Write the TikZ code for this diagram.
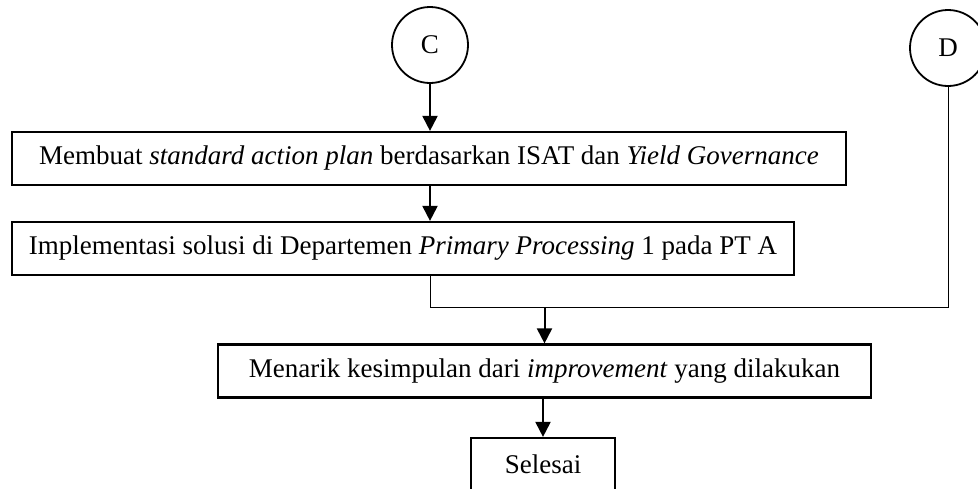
\documentclass[tikz,border=0pt]{standalone}
\usepackage{fontspec}
\setmainfont{Liberation Serif}
\usetikzlibrary{arrows.meta}
\begin{document}
\begin{tikzpicture}[x=1pt,y=-1pt,
  box/.style={draw, line width=2.2pt, minimum height=53pt, inner sep=0pt, font=\fontsize{27}{31}\selectfont},
  circ/.style={draw, circle, line width=1.8pt, minimum size=76pt, inner sep=0pt, font=\fontsize{27}{31}\selectfont},
  arr/.style={line width=2pt, -{Triangle[width=15pt,length=15pt]}},
  link/.style={line width=1pt}]
\useasboundingbox (0,0) rectangle (978,488);
\node[circ] (C) at (430,45) {C};
\node[circ] (D) at (948,48) {D};
\node[box, minimum width=834pt] (b1) at (429,158.5) {Membuat \textit{standard action plan} berdasarkan ISAT dan \textit{Yield Governance}};
\node[box, minimum width=782pt] (b2) at (403,248.5) {Implementasi solusi di Departemen \textit{Primary Processing} 1 pada PT A};
\node[box, minimum width=653pt] (b3) at (544.5,371) {Menarik kesimpulan dari \textit{improvement} yang dilakukan};
\node[box, minimum width=144pt] (b4) at (543,464.5) {Selesai};
\coordinate (j) at (544.5,307);
\draw[arr] (C) -- (C |- b1.north);
\draw[arr] (b1.south -| C) -- (b2.north -| C);
\draw[link] (b2.south -| C) |- (D |- j) -- (D.south);
\draw[arr] (j) -- (b3.north);
\draw[arr] (b3.south -| b4) -- (b4.north);
\end{tikzpicture}
\end{document}
